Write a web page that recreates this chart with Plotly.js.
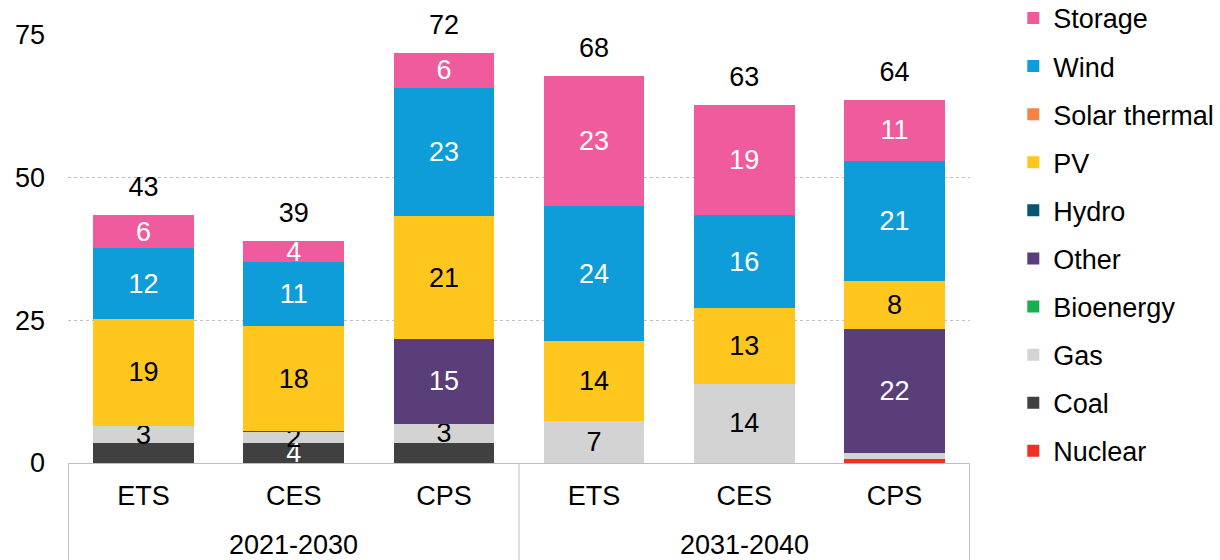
<!DOCTYPE html>
<html>
<head>
<meta charset="utf-8">
<script src="https://cdn.plot.ly/plotly-3.0.1.min.js"></script>
<style>
  html, body { margin: 0; padding: 0; background: #fff; }
  #chart { width: 1220px; height: 560px; }
</style>
</head>
<body>
<div id="chart"></div>
<script>
// ---- Data ----
const periods    = ['2021-2030', '2021-2030', '2021-2030', '2031-2040', '2031-2040', '2031-2040'];
const scenarios  = ['ETS', 'CES', 'CPS', 'ETS', 'CES', 'CPS'];
const groupLabels = ['2021-2030', '2031-2040'];

const nuclear      = [0, 0, 0, 0, 0, 0.75];
const coal         = [3.5, 3.5, 3.5, 0, 0, 0];
const gas          = [2.9, 1.9, 3.4, 7.4, 13.9, 0.95];
const bioenergy    = [0, 0, 0, 0, 0, 0];
const other        = [0.15, 0.15, 14.9, 0, 0, 21.7];
const hydro        = [0, 0, 0, 0, 0, 0];
const pv           = [18.7, 18.4, 21.4, 13.9, 13.3, 8.5];
const solarThermal = [0, 0, 0, 0, 0, 0];
const wind         = [12.4, 11.2, 22.6, 23.8, 16.2, 21.1];
const storage      = [5.8, 3.7, 6.0, 22.7, 19.3, 10.6];

// Labels shown in the reference
const coalLabels    = ['', '4', '', '', '', ''];
const gasLabels     = ['3', '2', '3', '7', '14', ''];
const otherLabels   = ['', '', '15', '', '', '22'];
const pvLabels      = ['19', '18', '21', '14', '13', '8'];
const windLabels    = ['12', '11', '23', '24', '16', '21'];
const storageLabels = ['6', '4', '6', '23', '19', '11'];
const totalLabels   = ['43', '39', '72', '68', '63', '64'];

// ---- Chart ----
const FONT = 'Liberation Sans, Arial, sans-serif';
const FS = 27;
// unique category keys (period + scenario), shown with the scenario name only
const keys = periods.map((p, i) => p + ' ' + scenarios[i]);
const empty = scenarios.map(() => '');

function series(name, values, color, rank, labels, textColor) {
  return {
    type: 'bar', name: name, x: keys, y: values,
    marker: { color: color, line: { width: 0 } },
    text: labels || empty,
    textposition: 'inside',
    insidetextanchor: 'middle',
    constraintext: 'none',
    textangle: 0,
    insidetextfont: { family: FONT, size: FS, color: textColor || '#000' },
    hoverinfo: 'skip',
    legendgroup: name,
    legendrank: rank
  };
}

const traces = [
  series('Nuclear', nuclear, '#EE3124', 10),
  series('Coal', coal, '#404040', 9, coalLabels, '#fff'),
  series('Gas', gas, '#D3D3D3', 8, gasLabels, '#000'),
  series('Bioenergy', bioenergy, '#1BAE4F', 7),
  series('Other', other, '#593E7A', 6, otherLabels, '#fff'),
  series('Hydro', hydro, '#05566E', 5),
  series('PV', pv, '#FFC61E', 4, pvLabels, '#000'),
  series('Solar thermal', solarThermal, '#F58442', 3),
  series('Wind', wind, '#0E9DD9', 2, windLabels, '#fff'),
  series('Storage', storage, '#EF5B9C', 1, storageLabels, '#fff')
];

const totals = scenarios.map((_, i) =>
  nuclear[i] + coal[i] + gas[i] + bioenergy[i] + other[i] + hydro[i] +
  pv[i] + solarThermal[i] + wind[i] + storage[i]);

traces.push({
  type: 'scatter', mode: 'markers+text', x: keys, y: totals,
  marker: { size: 18, opacity: 0 },
  text: totalLabels, textposition: 'top center',
  textfont: { family: FONT, size: FS, color: '#000' },
  showlegend: false, hoverinfo: 'skip', cliponaxis: false
});

// group labels and dividers under the category axis
const annotations = groupLabels.map((g, gi) => ({
  text: g, xref: 'x', yref: 'paper',
  x: keys[gi * 3 + 1], y: -0.192, yanchor: 'middle', xanchor: 'center',
  showarrow: false, font: { family: FONT, size: FS, color: '#000' }
}));
const dividerPos = [-0.5, 2.5, 5.5];
const shapes = dividerPos.map(p => ({
  type: 'line', xref: 'x', yref: 'paper',
  x0: p, x1: p, y0: 0, y1: -0.23,
  line: { color: '#BFBFBF', width: 1 }
}));

const layout = {
  width: 1220, height: 560,
  margin: { l: 68, r: 250, t: 35, b: 97, autoexpand: false },
  paper_bgcolor: '#fff', plot_bgcolor: '#fff',
  font: { family: FONT, size: FS, color: '#000' },
  barmode: 'stack',
  bargap: 0.33,
  showlegend: true,
  legend: {
    x: 1.048, xanchor: 'left', y: 1.096, yanchor: 'top',
    traceorder: 'grouped',
    tracegroupgap: 10,
    maxheight: 560,
    font: { family: FONT, size: FS, color: '#000' },
    bgcolor: 'rgba(0,0,0,0)'
  },
  xaxis: {
    type: 'category',
    tickvals: keys, ticktext: scenarios,
    showline: true, linecolor: '#BFBFBF', linewidth: 1,
    tickfont: { family: FONT, size: FS, color: '#000' },
    ticklabelstandoff: 9,
    ticks: '', showgrid: false, zeroline: false
  },
  yaxis: {
    range: [0, 75],
    tickvals: [0, 25, 50, 75],
    showgrid: true, gridcolor: '#BFBFBF', griddash: 'dot', gridwidth: 1,
    zeroline: false, showline: false, ticks: '',
    ticklabelstandoff: 22,
    tickfont: { family: FONT, size: FS, color: '#000' }
  },
  annotations: annotations,
  shapes: shapes
};

Plotly.newPlot('chart', traces, layout, { displayModeBar: false, staticPlot: true });
</script>
</body>
</html>
